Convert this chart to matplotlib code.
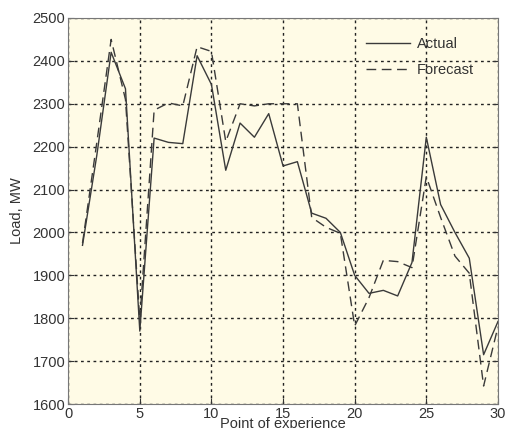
import matplotlib.pyplot as plt
import numpy as np

plt.rcParams['font.family'] = ['Liberation Sans', 'DejaVu Sans']

points = np.arange(1, 31)
actual = [1970, 2180, 2420, 2335, 1770, 2220, 2210, 2207, 2412, 2345,
          2145, 2255, 2222, 2277, 2155, 2165, 2045, 2033, 2000, 1900,
          1858, 1865, 1852, 1930, 2222, 2065, 2000, 1940, 1715, 1792]
forecast = [1975, 2210, 2450, 2310, 1795, 2285, 2302, 2295, 2433, 2422,
            2212, 2300, 2295, 2300, 2300, 2300, 2035, 2012, 1998, 1782,
            1848, 1935, 1932, 1918, 2130, 2035, 1945, 1905, 1642, 1780]

fig = plt.figure(figsize=(5.05, 4.28), dpi=100)
ax = fig.add_axes([0.135, 0.056, 0.851, 0.902])
ax.set_facecolor('#fffbe6')

ax.plot(points, actual, color='#3a3a3a', lw=1.0, label='Actual')
ax.plot(points, forecast, color='#3a3a3a', lw=1.0, dashes=(7, 4), label='Forecast')

ax.set_xlim(0, 30)
ax.set_ylim(1600, 2500)
ax.set_xticks(range(0, 31, 5))
ax.set_yticks(range(1600, 2501, 100))
ax.grid(True, color='#222222', linestyle=(0, (2, 2.5)), lw=1.0)
ax.tick_params(direction='in', length=4, labelsize=10.5, colors='#333333',
               pad=2, top=False, right=True)
for s in ax.spines.values():
    s.set_color('#777777')

ax.set_xlabel('Point of experience', fontsize=10.5, color='#333333', labelpad=-3)
ax.set_ylabel('Load, MW', fontsize=10.5, color='#333333', labelpad=6)

leg = ax.legend(loc='upper right', bbox_to_anchor=(0.975, 0.985), frameon=False,
                fontsize=10.5, handlelength=3.0, handletextpad=0.5, labelspacing=0.85)
for t in leg.get_texts():
    t.set_color('#333333')

fig.savefig('out.png', dpi=100)
